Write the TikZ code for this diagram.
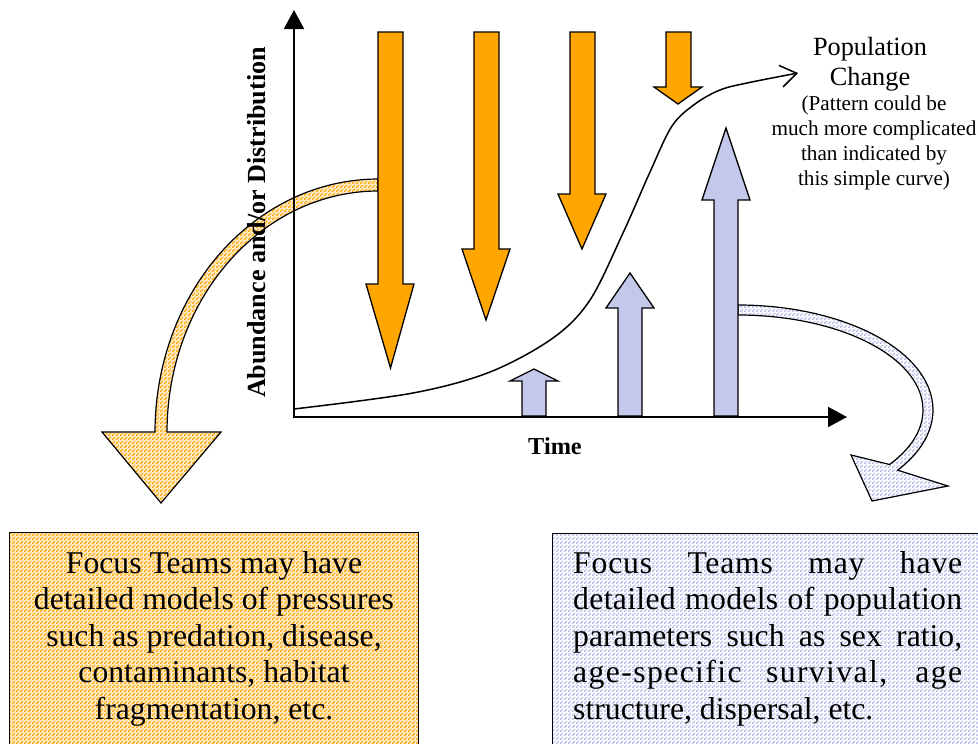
\documentclass[tikz,border=0pt]{standalone}
\usepackage{fontspec}
\setmainfont{Liberation Serif}
\usetikzlibrary{arrows.meta,patterns.meta}
\definecolor{orng}{RGB}{255,166,0}
\definecolor{lav}{RGB}{196,200,234}
\definecolor{cream}{RGB}{255,236,200}
\definecolor{chkblue}{RGB}{180,186,234}
\pgfdeclarepattern{name=finechk, type=uncolored,
  bottom left=\pgfpointorigin, top right={\pgfqpoint{4pt}{4pt}},
  tile size={\pgfqpoint{4pt}{4pt}},
  code={\pgfpathrectangle{\pgfpointorigin}{\pgfqpoint{2pt}{2pt}}%
        \pgfpathrectangle{\pgfqpoint{2pt}{2pt}}{\pgfqpoint{2pt}{2pt}}%
        \pgfusepath{fill}}}
\tikzset{
  orarrow/.style={draw=black, line width=1.3pt, fill=orng, line join=miter},
  bluarrow/.style={draw=black, line width=1.3pt, fill=lav, line join=miter},
  orchk/.style={draw=black, line width=1.2pt, preaction={fill=cream}, pattern={finechk}, pattern color=orng},
  bluchk/.style={draw=black, line width=1.2pt, preaction={fill=white}, pattern={finechk}, pattern color=chkblue},
  axis/.style={draw=black, line width=2pt, -{Triangle[length=19pt,width=20pt]}},
  boxtext/.style={inner sep=0pt, font=\fontsize{31.7}{36.5}\selectfont},
}
\begin{document}
\begin{tikzpicture}[x=1pt,y=-1pt]
\useasboundingbox (0,0) rectangle (978,744);
\clip (0,0) rectangle (978,744);
% boxes
\draw[orchk, line width=1pt] (9.5,532) rectangle (418,770);
\draw[bluchk, line width=1pt] (552,533) rectangle (990,770);
\node[boxtext, align=center, anchor=base] (lefttext) at (214,719)
  {Focus Teams may have\\detailed models of pressures\\such as predation, disease,\\contaminants, habitat\\fragmentation, etc.};
\node[boxtext, align=left, anchor=base west] (righttext) at (573,719)
  {\makebox[389pt][s]{\addfontfeature{LetterSpace=2.5}Focus Teams may have}\\
   \makebox[389pt][s]{\addfontfeature{LetterSpace=1}detailed models of population}\\
   \makebox[389pt][s]{parameters such as sex ratio,}\\
   \makebox[389pt][s]{\addfontfeature{LetterSpace=4.4}age-specific survival, age}\\
   structure, dispersal, etc.};
% curved band arrows
\draw[orchk] plot[domain=270:180, samples=50] ({378+223*cos(\x)},{432+253*sin(\x)})
  -- (102,432) -- (161,503) -- (221,432) -- (167,432)
  -- plot[domain=180:270, samples=50] ({378+211*cos(\x)},{432+241*sin(\x)}) -- cycle;
\draw[bluchk] plot[domain=-90:35, samples=50] ({738+195*cos(\x)},{410+105*sin(\x)})
  -- (948,486) -- (872,501) -- (851,455)
  -- plot[domain=35:-90, samples=50] ({738+185*cos(\x)},{410+95*sin(\x)}) -- cycle;
% orange pressure arrows
\draw[orarrow] (378,32) -- (403,32) -- (403,284) -- (414,284) -- (390.5,368) -- (366,284) -- (378,284) -- cycle;
\draw[orarrow] (474,32) -- (499,32) -- (499,249) -- (510,249) -- (486,320) -- (462,249) -- (474,249) -- cycle;
\draw[orarrow] (570,32) -- (595,32) -- (595,194) -- (606,194) -- (582,249) -- (558,194) -- (570,194) -- cycle;
\draw[orarrow] (666,32) -- (691,32) -- (691,87) -- (702,87) -- (678,104) -- (654,87) -- (666,87) -- cycle;
% blue parameter arrows
\draw[bluarrow] (522,416) -- (546,416) -- (546,381) -- (558,381) -- (534,369) -- (510,381) -- (522,381) -- cycle;
\draw[bluarrow] (618,416) -- (642,416) -- (642,308) -- (654,308) -- (630,273) -- (606,308) -- (618,308) -- cycle;
\draw[bluarrow] (714,416) -- (738,416) -- (738,200) -- (750,200) -- (726,128) -- (702,200) -- (714,200) -- cycle;
% axes
\coordinate (origin) at (294,417);
\coordinate (ytop) at (294,10);
\coordinate (xend) at (847,417);
\draw[axis] (origin) -- (ytop);
\draw[axis] (293,417) -- (xend);
% population curve
\draw[line width=1.5pt, -{Straight Barb[length=16pt,width=22pt,line width=1.5pt]}]
  plot[smooth, tension=0.55] coordinates {(294,409) (413,393) (490,372) (553,338) (590,300) (623,233) (650,172) (672,126) (695,104) (720,90) (747,83) (798,73)};
% labels
\node[inner sep=0pt, rotate=90, anchor=base, font=\fontsize{26.1}{30}\selectfont\bfseries] (ylabel) at (265,222.5) {Abundance and/or Distribution};
\node[inner sep=0pt, anchor=base, font=\fontsize{24.3}{28}\selectfont\bfseries] (xlabel) at (555,454) {Time};
\node[inner sep=0pt, anchor=base, align=center, font=\fontsize{26.3}{30}\selectfont] (poptitle) at (870,85) {Population\\Change};
\node[inner sep=0pt, anchor=base, align=center, font=\fontsize{21.2}{24.7}\selectfont] (popnote) at (874,185)
  {(Pattern could be\\much more complicated\\than indicated by\\this simple curve)};
\end{tikzpicture}
\end{document}
